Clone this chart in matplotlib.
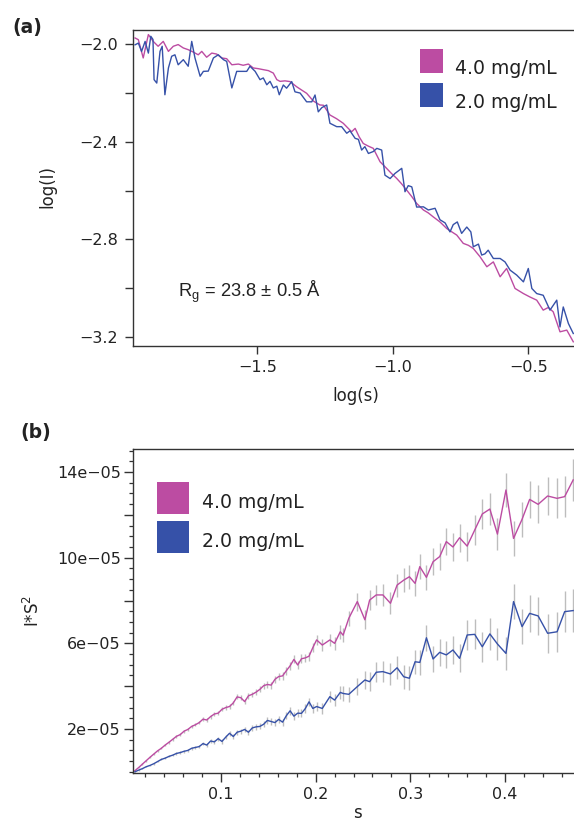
import numpy as np
import matplotlib
matplotlib.use("Agg")
import matplotlib.pyplot as plt
from matplotlib.patches import Rectangle
from matplotlib.ticker import FixedLocator, FixedFormatter, MultipleLocator

# ---------------- data: (a) Guinier-style log-log profile ----------------
logs_40 = [-1.951, -1.939, -1.921, -1.902, -1.884, -1.866, -1.847, -1.828, -1.810, -1.792,
           -1.773, -1.755, -1.736, -1.718, -1.705, -1.687, -1.668, -1.650, -1.631, -1.613,
           -1.594, -1.570, -1.552, -1.533, -1.515, -1.496, -1.478, -1.459, -1.441, -1.428,
           -1.416, -1.398, -1.379, -1.355, -1.336, -1.318, -1.293, -1.269, -1.256, -1.232,
           -1.208, -1.183, -1.152, -1.139, -1.124, -1.109, -1.090, -1.072, -1.047, -1.023,
           -1.005, -0.986, -0.968, -0.949, -0.930, -0.912, -0.887, -0.869, -0.851, -0.826,
           -0.801, -0.782, -0.764, -0.740, -0.721, -0.703, -0.678, -0.653, -0.629, -0.604,
           -0.580, -0.549, -0.518, -0.494, -0.469, -0.445, -0.426, -0.408, -0.383, -0.358,
           -0.334]
logI_40 = [-1.974, -1.981, -2.056, -1.960, -1.988, -2.008, -1.988, -2.029, -2.008, -2.001,
           -2.015, -2.022, -2.032, -2.043, -2.029, -2.053, -2.036, -2.040, -2.056, -2.059,
           -2.084, -2.081, -2.086, -2.081, -2.097, -2.100, -2.104, -2.108, -2.118, -2.145,
           -2.152, -2.150, -2.153, -2.174, -2.188, -2.201, -2.233, -2.249, -2.250, -2.290,
           -2.305, -2.324, -2.359, -2.345, -2.380, -2.407, -2.418, -2.427, -2.482, -2.509,
           -2.530, -2.550, -2.572, -2.598, -2.625, -2.653, -2.680, -2.692, -2.708, -2.729,
           -2.756, -2.770, -2.783, -2.817, -2.825, -2.838, -2.872, -2.913, -2.893, -2.954,
           -2.920, -3.002, -3.023, -3.037, -3.050, -3.091, -3.080, -3.098, -3.180, -3.173,
           -3.221]

logs_20 = [-1.951, -1.939, -1.927, -1.914, -1.902, -1.893, -1.885, -1.881, -1.871, -1.859,
           -1.851, -1.841, -1.828, -1.816, -1.804, -1.792, -1.773, -1.755, -1.742, -1.730,
           -1.711, -1.699, -1.681, -1.662, -1.644, -1.625, -1.613, -1.594, -1.576, -1.558,
           -1.539, -1.527, -1.508, -1.490, -1.478, -1.465, -1.453, -1.441, -1.428, -1.419,
           -1.404, -1.392, -1.373, -1.361, -1.342, -1.318, -1.299, -1.287, -1.275, -1.262,
           -1.244, -1.232, -1.207, -1.189, -1.170, -1.158, -1.139, -1.127, -1.115, -1.103,
           -1.090, -1.072, -1.059, -1.041, -1.029, -1.010, -0.992, -0.967, -0.955, -0.943,
           -0.930, -0.912, -0.887, -0.869, -0.844, -0.826, -0.807, -0.789, -0.777, -0.762,
           -0.746, -0.727, -0.712, -0.703, -0.684, -0.672, -0.660, -0.648, -0.629, -0.604,
           -0.586, -0.567, -0.543, -0.518, -0.500, -0.487, -0.469, -0.445, -0.420, -0.395,
           -0.383, -0.371, -0.352, -0.334]
logI_20 = [-2.002, -1.995, -2.029, -1.988, -2.036, -1.967, -1.980, -2.145, -2.159, -2.029,
           -2.008, -2.207, -2.097, -2.049, -2.043, -2.084, -2.063, -2.090, -1.988, -2.056,
           -2.131, -2.111, -2.110, -2.056, -2.043, -2.063, -2.070, -2.179, -2.111, -2.111,
           -2.111, -2.090, -2.111, -2.145, -2.138, -2.166, -2.152, -2.179, -2.172, -2.207,
           -2.167, -2.180, -2.153, -2.195, -2.200, -2.236, -2.236, -2.208, -2.277, -2.260,
           -2.249, -2.324, -2.338, -2.338, -2.365, -2.355, -2.386, -2.390, -2.434, -2.420,
           -2.448, -2.440, -2.427, -2.434, -2.537, -2.551, -2.530, -2.509, -2.605, -2.580,
           -2.585, -2.668, -2.667, -2.680, -2.673, -2.720, -2.733, -2.770, -2.740, -2.729,
           -2.776, -2.750, -2.770, -2.831, -2.820, -2.865, -2.860, -2.845, -2.879, -2.879,
           -2.893, -2.927, -2.947, -2.975, -2.920, -3.002, -3.023, -3.030, -3.091, -3.050,
           -3.160, -3.078, -3.146, -3.187]

# ---------------- data: (b) Kratky-style I*s^2 profile (units of 1e-5) ----------------
s_b = [0.009, 0.013, 0.017, 0.021, 0.025, 0.029, 0.033, 0.037, 0.041, 0.045,
       0.049, 0.053, 0.057, 0.061, 0.065, 0.069, 0.073, 0.077, 0.081, 0.085,
       0.089, 0.093, 0.097, 0.101, 0.105, 0.109, 0.113, 0.117, 0.121, 0.125,
       0.129, 0.133, 0.137, 0.141, 0.145, 0.149, 0.153, 0.157, 0.161, 0.165,
       0.169, 0.173, 0.177, 0.181, 0.185, 0.189, 0.193, 0.197,
       0.201, 0.207, 0.215, 0.220, 0.226, 0.229, 0.235, 0.244, 0.252, 0.257,
       0.264, 0.271, 0.279, 0.286, 0.293, 0.299, 0.305, 0.310, 0.317, 0.324,
       0.331, 0.338, 0.345, 0.352, 0.360, 0.368, 0.376, 0.384, 0.392, 0.401,
       0.409, 0.418, 0.426, 0.435, 0.445, 0.455, 0.463, 0.472]

is2_40 = [0.05, 0.20, 0.36, 0.52, 0.68, 0.83, 0.98, 1.10, 1.25, 1.38,
          1.52, 1.66, 1.74, 1.90, 1.98, 2.12, 2.20, 2.30, 2.46, 2.42,
          2.58, 2.70, 2.74, 2.92, 3.00, 3.05, 3.22, 3.50, 3.46, 3.28,
          3.55, 3.62, 3.72, 3.85, 4.02, 4.08, 4.05, 4.32, 4.45, 4.48,
          4.72, 4.95, 5.25, 4.99, 5.28, 5.32, 5.40, 5.80,
          6.16, 5.92, 6.16, 6.00, 6.54, 6.38, 7.17, 7.95, 7.10, 8.02,
          8.26, 8.26, 7.87, 8.72, 8.95, 9.11, 8.80, 9.58, 9.08, 9.81,
          10.05, 10.75, 10.50, 10.93, 10.54, 11.29, 12.04, 12.27, 11.10, 13.16,
          10.90, 11.79, 12.72, 12.49, 12.88, 12.77, 12.85, 13.63]
err_40 = [0.03, 0.03, 0.03, 0.04, 0.04, 0.04, 0.05, 0.05, 0.05, 0.06,
          0.06, 0.06, 0.07, 0.07, 0.07, 0.08, 0.08, 0.08, 0.09, 0.09,
          0.09, 0.10, 0.10, 0.10, 0.11, 0.11, 0.11, 0.12, 0.12, 0.12,
          0.13, 0.13, 0.14, 0.14, 0.15, 0.15, 0.16, 0.16, 0.17, 0.17,
          0.18, 0.18, 0.19, 0.19, 0.20, 0.20, 0.21, 0.21,
          0.24, 0.26, 0.28, 0.30, 0.32, 0.34, 0.36, 0.42, 0.45, 0.46,
          0.48, 0.50, 0.52, 0.54, 0.56, 0.55, 0.57, 0.58, 0.60, 0.62,
          0.63, 0.64, 0.65, 0.66, 0.68, 0.70, 0.72, 0.73, 0.75, 0.78,
          0.80, 0.82, 0.85, 0.88, 0.90, 0.94, 0.97, 1.00]

is2_20 = [0.00, 0.08, 0.15, 0.24, 0.30, 0.38, 0.48, 0.58, 0.64, 0.72,
          0.78, 0.86, 0.90, 0.96, 1.00, 1.10, 1.14, 1.18, 1.32, 1.25,
          1.44, 1.40, 1.55, 1.42, 1.62, 1.80, 1.65, 1.85, 1.90, 1.98,
          1.85, 2.05, 2.10, 2.12, 2.22, 2.40, 2.35, 2.30, 2.45, 2.32,
          2.62, 2.85, 2.60, 2.74, 2.73, 2.95, 3.27, 2.96,
          3.05, 2.96, 3.51, 3.35, 3.71, 3.66, 3.62, 3.98, 4.29, 4.21,
          4.65, 4.68, 4.57, 4.86, 4.44, 4.37, 5.14, 5.11, 6.26, 5.27,
          5.58, 5.46, 5.69, 5.30, 6.39, 6.42, 5.84, 6.44, 5.97, 5.53,
          7.95, 6.78, 7.40, 7.28, 6.47, 6.54, 7.48, 7.53]
err_20 = [0.03, 0.03, 0.03, 0.03, 0.04, 0.04, 0.04, 0.05, 0.05, 0.05,
          0.06, 0.06, 0.06, 0.07, 0.07, 0.07, 0.08, 0.08, 0.08, 0.09,
          0.09, 0.09, 0.10, 0.10, 0.10, 0.11, 0.11, 0.11, 0.12, 0.12,
          0.12, 0.13, 0.13, 0.14, 0.14, 0.15, 0.15, 0.16, 0.16, 0.17,
          0.17, 0.18, 0.18, 0.19, 0.19, 0.20, 0.20, 0.21,
          0.23, 0.25, 0.27, 0.29, 0.31, 0.33, 0.35, 0.40, 0.43, 0.45,
          0.47, 0.49, 0.51, 0.53, 0.55, 0.55, 0.56, 0.58, 0.60, 0.61,
          0.62, 0.63, 0.64, 0.66, 0.68, 0.70, 0.71, 0.73, 0.75, 0.78,
          0.80, 0.82, 0.85, 0.88, 0.90, 0.94, 0.97, 1.00]

series_labels = ["4.0 mg/mL", "2.0 mg/mL"]
rg_text = r"R$_\mathregular{g}$ = 23.8 ± 0.5 Å"

a_yticks = [-2.0, -2.2, -2.4, -2.6, -2.8, -3.0, -3.2]
a_yticklabels = ["−2.0", "", "−2.4", "", "−2.8", "", "−3.2"]
a_xticks = [-1.5, -1.0, -0.5]
a_xticklabels = ["−1.5", "−1.0", "−0.5"]
b_yticks = [2e-5, 4e-5, 6e-5, 8e-5, 10e-5, 12e-5, 14e-5]
b_yticklabels = ["2e−05", "", "6e−05", "", "10e−05", "", "14e−05"]
b_xticks = [0.1, 0.2, 0.3, 0.4]
b_xticklabels = ["0.1", "0.2", "0.3", "0.4"]

# ---------------- styling ----------------
plt.rcParams['font.family'] = ['DejaVu Sans']
plt.rcParams['mathtext.default'] = 'regular'

PINK = '#BC4CA2'
BLUE = '#3651A8'
INK = '#222222'
SPINE = '#333333'
ERR = '#BDBDBD'

W, H = 574, 824
fig = plt.figure(figsize=(W / 100, H / 100), dpi=100)


def box(left, top, right, bottom):
    return [left / W, 1 - bottom / H, (right - left) / W, (bottom - top) / H]


def fx(x):
    return x / W


def fy(y):
    return 1 - y / H


def style_axes(ax):
    for sp in ax.spines.values():
        sp.set_color(SPINE)
        sp.set_linewidth(1.0)


# ---------------- panel (a) ----------------
ax1 = fig.add_axes(box(133.3, 29.7, 578, 345.7))
style_axes(ax1)
ax1.plot(logs_40, logI_40, color=PINK, lw=1.0)
ax1.plot(logs_20, logI_20, color=BLUE, lw=1.0)
ax1.set_xlim(-1.9576, -0.3166)
ax1.set_ylim(-3.237, -1.94)
ax1.yaxis.set_major_locator(FixedLocator(a_yticks))
ax1.yaxis.set_major_formatter(FixedFormatter(a_yticklabels))
ax1.xaxis.set_major_locator(FixedLocator(a_xticks))
ax1.xaxis.set_major_formatter(FixedFormatter(a_xticklabels))
ax1.tick_params(direction='out', length=6, width=1.0, color=SPINE,
                labelcolor=INK, labelsize=11.5)
ax1.tick_params(axis='y', pad=5)
ax1.tick_params(axis='x', pad=4.5)
ax1.text(fx(178), fy(297), rg_text, transform=fig.transFigure,
         family='Liberation Sans', fontsize=13.2, color=INK, va='baseline')

# ---------------- panel (b) ----------------
ax2 = fig.add_axes(box(133.3, 449.3, 578, 772.7))
style_axes(ax2)
s_arr = np.array(s_b)
y40 = np.array(is2_40) * 1e-5
y20 = np.array(is2_20) * 1e-5
e40 = np.array(err_40) * 1e-5
e20 = np.array(err_20) * 1e-5
ax2.vlines(s_arr, y40 - e40, y40 + e40, color=ERR, lw=1.0, zorder=1)
ax2.vlines(s_arr, y20 - e20, y20 + e20, color=ERR, lw=1.0, zorder=1)
ax2.plot(s_arr, y40, color=PINK, lw=1.0, zorder=2)
ax2.plot(s_arr, y20, color=BLUE, lw=1.0, zorder=2)
ax2.set_xlim(0.00737, 0.4771)
ax2.set_ylim(-0.04e-5, 15.06e-5)
ax2.yaxis.set_major_locator(FixedLocator(b_yticks))
ax2.yaxis.set_major_formatter(FixedFormatter(b_yticklabels))
ax2.yaxis.set_minor_locator(MultipleLocator(0.5e-5))
ax2.xaxis.set_major_locator(FixedLocator(b_xticks))
ax2.xaxis.set_major_formatter(FixedFormatter(b_xticklabels))
ax2.xaxis.set_minor_locator(MultipleLocator(0.02))
ax2.tick_params(which='major', direction='out', length=6.5, width=1.0, color=SPINE,
                labelcolor=INK, labelsize=11.5)
ax2.tick_params(which='minor', direction='out', length=3.0, width=0.9, color=SPINE)
ax2.tick_params(axis='y', which='major', pad=2.5)
ax2.tick_params(axis='x', which='major', pad=3.5)

# ---------------- legends drawn as colour squares ----------------
leg_font = dict(fontsize=13.6, color=INK, va='baseline', ha='left')
for (top, bottom), col in zip([(49, 72.7), (83, 106.7)], [PINK, BLUE]):
    fig.add_artist(Rectangle((fx(420), fy(bottom)), (442.7 - 420) / W, (bottom - top) / H,
                             transform=fig.transFigure, facecolor=col, edgecolor='none'))
fig.text(fx(455), fy(74), series_labels[0], **leg_font)
fig.text(fx(455), fy(107.5), series_labels[1], **leg_font)

for (top, bottom), col in zip([(481.7, 514), (520.7, 552.7)], [PINK, BLUE]):
    fig.add_artist(Rectangle((fx(156.7), fy(bottom)), (189 - 156.7) / W, (bottom - top) / H,
                             transform=fig.transFigure, facecolor=col, edgecolor='none'))
fig.text(fx(201.7), fy(508.3), series_labels[0], **leg_font)
fig.text(fx(201.7), fy(547.3), series_labels[1], **leg_font)

# ---------------- axis titles and panel tags ----------------
lab_font = dict(fontsize=12, color=INK, ha='center', va='center')
fig.text(fx(47), fy(187), "log(I)", rotation=90, **lab_font)
fig.text(fx(356), fy(396), "log(s)", **lab_font)
fig.text(fx(33), fy(611), r"I*S$^{2}$", rotation=90, **lab_font)
fig.text(fx(357), fy(813), "s", **lab_font)

fig.text(fx(12), fy(27.5), "(a)", fontsize=13.5, fontweight='bold', color=INK,
         ha='left', va='center')
fig.text(fx(20), fy(432.5), "(b)", fontsize=13.5, fontweight='bold', color=INK,
         ha='left', va='center')

fig.savefig("out.png", dpi=100)
